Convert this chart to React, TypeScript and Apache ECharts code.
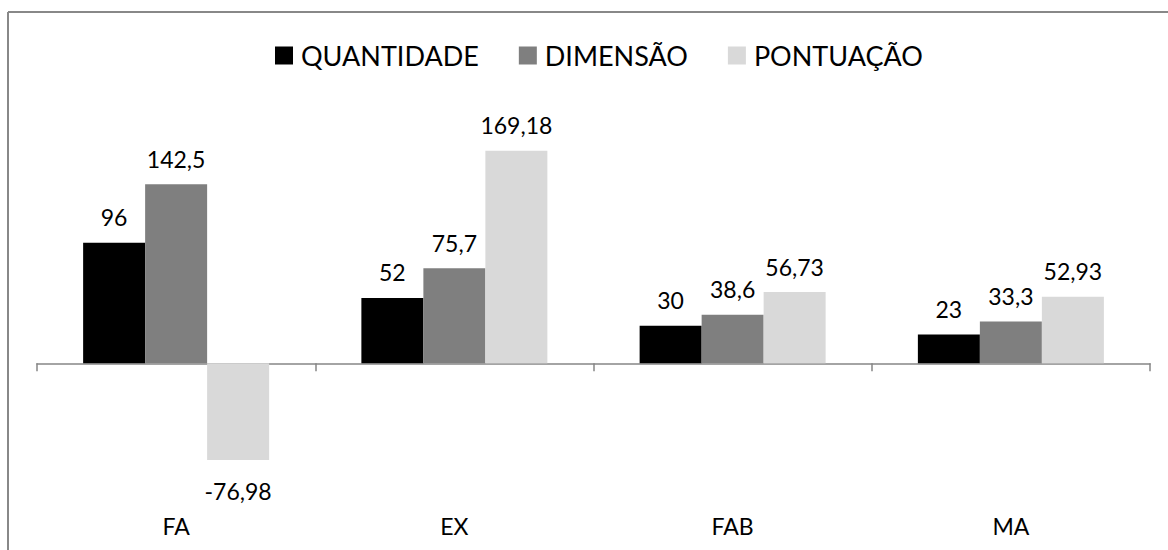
import React, { useEffect, useRef } from "react";
import * as echarts from "echarts";

const categories = ["FA", "EX", "FAB", "MA"];
const quantidade = [96, 52, 30, 23];
const dimensao = [142.5, 75.7, 38.6, 33.3];
const pontuacao = [-76.98, 169.18, 56.73, 52.93];
const seriesNames = ["QUANTIDADE", "DIMENSÃO", "PONTUAÇÃO"];
const seriesColors = ["#000000", "#7f7f7f", "#d9d9d9"];

const FONT = "Lato";

const fmt = (v: number) => String(v).replace(".", ",");

export default function App() {
  const ref = useRef<HTMLDivElement>(null);
  useEffect(() => {
    if (!ref.current) return;
    const chart = echarts.init(ref.current, undefined, { renderer: "svg" });
    const mkData = (arr: number[]) =>
      arr.map((v) =>
        v < 0 ? { value: v, label: { distance: 19 } } : { value: v }
      );
    const dataSets = [quantidade, dimensao, pontuacao];
    chart.setOption({
      animation: false,
      backgroundColor: "#ffffff",
      textStyle: { fontFamily: FONT },
      graphic: [
        {
          type: "line",
          silent: true,
          z: 100,
          shape: { x1: 8, y1: 12, x2: 1168, y2: 12 },
          style: { stroke: "#888888", lineWidth: 2 },
        },
        {
          type: "line",
          silent: true,
          z: 100,
          shape: { x1: 8, y1: 12, x2: 8, y2: 550 },
          style: { stroke: "#888888", lineWidth: 2 },
        },
      ],
      legend: {
        left: 270,
        top: 37,
        itemWidth: 18,
        itemHeight: 18,
        itemGap: 40,
        icon: "rect",
        textStyle: {
          fontFamily: FONT,
          fontSize: 27,
          color: "#000",
          padding: [0, 0, 0, 3],
        },
        data: seriesNames,
      },
      grid: { left: 37, right: 18, top: 112, bottom: 61, outerBoundsMode: "none", containLabel: false },
      xAxis: [
        {
          type: "category",
          data: categories,
          axisLine: { show: true, onZero: true, lineStyle: { color: "#868686", width: 1.5 } },
          axisTick: { show: true, length: 8, interval: 0, lineStyle: { color: "#868686", width: 1.5 } },
          axisLabel: { show: false },
          splitLine: { show: false },
        },
        {
          type: "category",
          data: categories,
          position: "bottom",
          axisLine: { show: false, onZero: false },
          axisTick: { show: false },
          axisLabel: { margin: 25, fontFamily: FONT, fontSize: 23, color: "#000" },
          splitLine: { show: false },
        },
      ],
      yAxis: {
        type: "value",
        min: -100,
        max: 200,
        show: false,
        splitLine: { show: false },
      },
      series: seriesNames.map((name, i) => ({
        name,
        type: "bar",
        xAxisIndex: 0,
        barWidth: 62,
        barGap: "0%",
        itemStyle: { color: seriesColors[i] },
        label: {
          show: true,
          position: "outside",
          distance: 14,
          fontFamily: FONT,
          fontSize: 23,
          color: "#000",
          formatter: (p: any) => fmt(p.value),
        },
        data: mkData(dataSets[i]),
      })),
    });
    return () => chart.dispose();
  }, []);
  return (
    <div
      ref={ref}
      style={{ position: "absolute", left: 0, top: 0, width: 1168, height: 550 }}
    />
  );
}
